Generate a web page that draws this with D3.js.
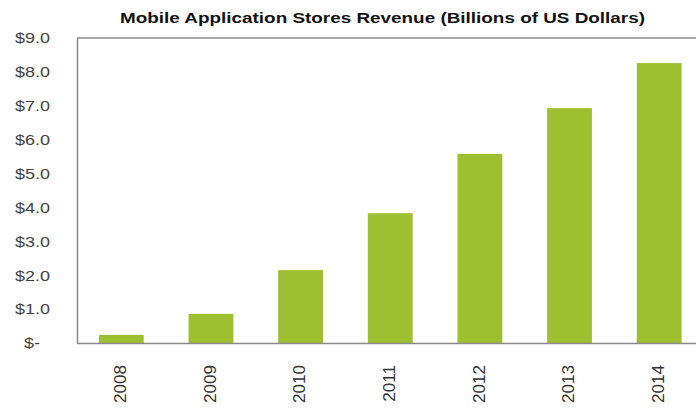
<!DOCTYPE html>
<html><head><meta charset="utf-8">
<script src="https://cdn.jsdelivr.net/npm/d3@7"></script>
<style>body{margin:0;background:#fff;overflow:hidden}svg{display:block}</style>
</head><body>
<script>
const categories = ["2008","2009","2010","2011","2012","2013","2014"];
const revenue = [0.24, 0.86, 2.15, 3.83, 5.58, 6.93, 8.26];
const yTicks = [0,1,2,3,4,5,6,7,8,9];
const title = "Mobile Application Stores Revenue (Billions of US Dollars)";

const W = 696, H = 412;
const m = {left: 77, top: 38, bottom: 69};
const plotRight = 704;
const FONT = "Liberation Sans, Arial, sans-serif";
const svg = d3.select("body").append("svg").attr("width", W).attr("height", H);

const x = d3.scaleBand().domain(categories).range([m.left - 0.5, plotRight]).paddingInner(0.5).paddingOuter(0.25);
const y = d3.scaleLinear().domain([0, 9]).range([H - m.bottom, m.top]);

svg.append("text").attr("x", 382.5).attr("y", 23).attr("text-anchor", "middle")
  .attr("font-family", FONT).attr("font-weight", "bold")
  .attr("font-size", 15).attr("fill", "#111")
  .attr("textLength", 525).attr("lengthAdjust", "spacingAndGlyphs").text(title);

// bars
svg.append("g").selectAll("rect").data(categories).join("rect")
  .attr("x", d => x(d)).attr("width", x.bandwidth())
  .attr("y", (d,i) => y(revenue[i])).attr("height", (d,i) => y(0) - y(revenue[i]))
  .attr("fill", "#9dbf30");

// frame top
svg.append("line").attr("x1", m.left).attr("x2", W).attr("y1", y(9)).attr("y2", y(9)).attr("stroke", "#8a8a8a").attr("stroke-width", 1.5);

const ya = svg.append("g").attr("transform", `translate(${m.left},0)`)
  .call(d3.axisLeft(y).tickValues(yTicks).tickSize(0).tickPadding(27)
    .tickFormat(d => d === 0 ? "$-" : "$" + d.toFixed(1)));
ya.select(".domain").attr("stroke", "#8a8a8a").attr("stroke-width", 1.5);
ya.selectAll("text").attr("font-family", FONT).attr("font-size", 15).attr("fill", "#444")
  .attr("dx", d => d === 0 ? -10 : 0)
  .each(function() { const l = this.getComputedTextLength(); d3.select(this).attr("textLength", l * 1.2).attr("lengthAdjust", "spacingAndGlyphs"); });

const xa = svg.append("g").attr("transform", `translate(0,${y(0)})`)
  .call(d3.axisBottom(x).tickSize(0));
xa.select(".domain").attr("stroke", "#8a8a8a").attr("stroke-width", 1.5);
xa.selectAll("text").attr("font-family", FONT).attr("font-size", 16).attr("fill", "#333")
  .attr("transform", "rotate(-90)").attr("text-anchor", "end").attr("x", -22).attr("y", -1).attr("dy", "0.35em")
  .each(function() { const l = this.getComputedTextLength(); d3.select(this).attr("textLength", l * 1.07).attr("lengthAdjust", "spacingAndGlyphs"); });
</script>
</body></html>
